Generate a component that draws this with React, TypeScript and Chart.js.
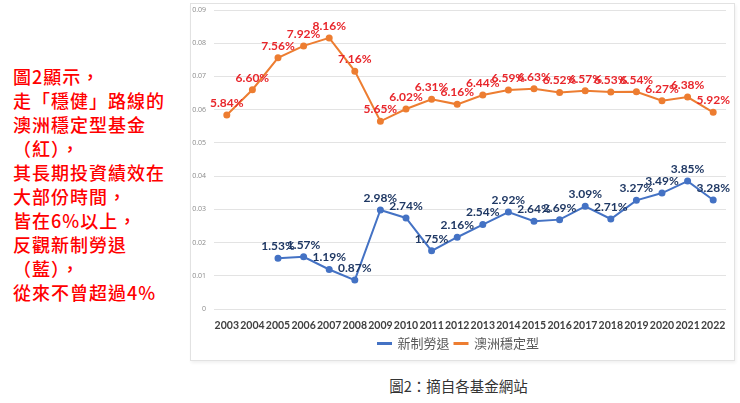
import React, { useEffect, useRef } from "react";
import { Chart, registerables } from "chart.js";

Chart.register(...registerables);

const years = ["2003","2004","2005","2006","2007","2008","2009","2010","2011","2012","2013","2014","2015","2016","2017","2018","2019","2020","2021","2022"];
const laborPension = [null,null,0.0153,0.0157,0.0119,0.0087,0.0298,0.0274,0.0175,0.0216,0.0254,0.0292,0.0264,0.0269,0.0309,0.0271,0.0327,0.0349,0.0385,0.0328];
const ausStable = [0.0584,0.066,0.0756,0.0792,0.0816,0.0716,0.0565,0.0602,0.0631,0.0616,0.0644,0.0659,0.0663,0.0652,0.0657,0.0653,0.0654,0.0627,0.0638,0.0592];
const yTicks = [0,0.01,0.02,0.03,0.04,0.05,0.06,0.07,0.08,0.09];
const seriesNames = ["新制勞退","澳洲穩定型"];
const sideText = ["圖2顯示，","走「穩健」路線的","澳洲穩定型基金","（紅），","其長期投資績效在","大部份時間，","皆在6%以上，","反觀新制勞退","（藍），","從來不曾超過4%"];
const caption = "圖2：摘自各基金網站";

const labelColors = ["#1f3864", "#e8262b"];

const valueLabels = {
  id: "valueLabels",
  afterDatasetsDraw(chart: any) {
    const ctx = chart.ctx;
    ctx.save();
    ctx.font = "700 12px Lato, 'Open Sans', sans-serif";
    ctx.textAlign = "center";
    ctx.textBaseline = "middle";
    chart.data.datasets.forEach((ds: any, i: number) => {
      const meta = chart.getDatasetMeta(i);
      ctx.fillStyle = labelColors[i];
      meta.data.forEach((pt: any, j: number) => {
        const v = ds.data[j];
        if (v === null || v === undefined) return;
        ctx.fillText((v * 100).toFixed(2) + "%", pt.x, pt.y - 12);
      });
    });
    ctx.restore();
  },
};

export default function App() {
  const ref = useRef<HTMLCanvasElement>(null);
  useEffect(() => {
    if (!ref.current) return;
    const chart = new Chart(ref.current, {
      type: "line",
      data: {
        labels: years,
        datasets: [
          {
            label: seriesNames[0],
            data: laborPension,
            borderColor: "#4472c4",
            backgroundColor: "#4472c4",
            borderWidth: 2,
            pointRadius: 2.5,
            pointBackgroundColor: "#4472c4",
            spanGaps: false,
          },
          {
            label: seriesNames[1],
            data: ausStable,
            borderColor: "#ed7d31",
            backgroundColor: "#ed7d31",
            borderWidth: 2,
            pointRadius: 2.5,
            pointBackgroundColor: "#ed7d31",
          },
        ],
      },
      options: {
        animation: false,
        responsive: false,
        maintainAspectRatio: false,
        layout: { padding: { left: 0, right: 8, top: 2, bottom: 0 } },
        plugins: {
          legend: {
            position: "bottom",
            labels: {
              boxWidth: 13,
              boxHeight: 1,
              color: "#595959",
              font: { family: "'Noto Sans CJK TC'", size: 13 },
              padding: 5,
            },
          },
          tooltip: { enabled: false },
        },
        scales: {
          x: {
            offset: true,
            grid: { display: false },
            border: { display: false },
            afterFit: (s: any) => {
              s.height = 23;
            },
            ticks: {
              color: "#404040",
              font: { family: "Lato, 'Liberation Sans', sans-serif", size: 10.5, weight: 700 },
              maxRotation: 0,
              autoSkip: false,
              padding: 2,
            },
          },
          y: {
            min: 0,
            max: 0.09,
            afterBuildTicks: (s: any) => {
              s.ticks = yTicks.map((v) => ({ value: v }));
            },
            afterFit: (s: any) => {
              s.width = 23;
              s.paddingTop = 0;
            },
            grid: { color: "#e3e3e3", drawTicks: false },
            border: { display: false },
            ticks: {
              color: "#8a8a8a",
              font: { family: "'Open Sans', sans-serif", size: 7 },
              padding: 8,
              callback: (v: any) => String(Math.round(Number(v) * 100) / 100),
            },
          },
        },
      },
      plugins: [valueLabels],
    });
    return () => chart.destroy();
  }, []);

  return (
    <div style={{ position: "fixed", left: 0, top: 0, width: 740, height: 403, background: "#fff", overflow: "hidden" }}>
      <div
        style={{
          position: "absolute",
          left: 13,
          top: 64,
          color: "#ff0000",
          fontFamily: "'Noto Sans CJK TC', serif",
          fontSize: 18,
          fontWeight: 500,
          lineHeight: "24px",
          letterSpacing: 1,
          whiteSpace: "nowrap",
        }}
      >
        {sideText.map((t, i) => (
          <div key={i}>{t}</div>
        ))}
      </div>
      <div
        style={{
          position: "absolute",
          left: 190,
          top: 3,
          width: 545,
          height: 358,
          border: "1px solid #e2e2e2",
          boxShadow: "1px 2px 3px rgba(0,0,0,0.06)",
          boxSizing: "border-box",
        }}
      >
        <canvas ref={ref} width={543} height={356} style={{ display: "block" }} />
      </div>
      <div
        style={{
          position: "absolute",
          left: 186,
          width: 545,
          top: 375,
          textAlign: "center",
          fontFamily: "'Noto Sans CJK TC', sans-serif",
          fontSize: 14.5,
          color: "#333",
        }}
      >
        {caption}
      </div>
    </div>
  );
}
